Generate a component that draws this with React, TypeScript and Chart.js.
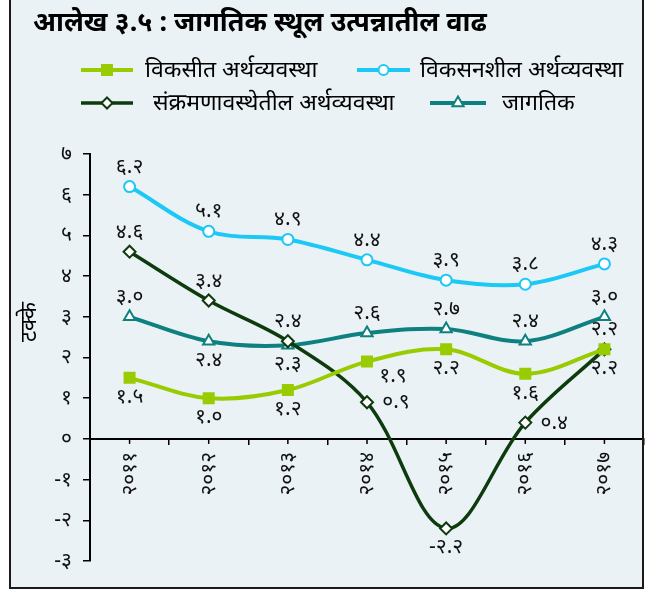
import React, { useEffect, useRef } from 'react';
import { Chart, registerables } from 'chart.js';

Chart.register(...registerables);

// ---- data ----
const titleText = 'आलेख ३.५ : जागतिक स्थूल उत्पन्नातील वाढ';
const yAxisTitle = 'टक्के';
const years = ['२०११', '२०१२', '२०१३', '२०१४', '२०१५', '२०१६', '२०१७'];
const seriesNames = [
  'विकसीत अर्थव्यवस्था',
  'विकसनशील अर्थव्यवस्था',
  'संक्रमणावस्थेतील अर्थव्यवस्था',
  'जागतिक',
];
const developed = [1.5, 1.0, 1.2, 1.9, 2.2, 1.6, 2.2];
const developing = [6.2, 5.1, 4.9, 4.4, 3.9, 3.8, 4.3];
const transition = [4.6, 3.4, 2.4, 0.9, -2.2, 0.4, 2.2];
const world = [3.0, 2.4, 2.3, 2.6, 2.7, 2.4, 3.0];
const yMin = -3;
const yMax = 7;

// label placement: a = above, b = below, r = right, br = below-right
const developedLabelPos = ['b', 'b', 'b', 'br', 'b', 'b', 'b'];
const developingLabelPos = ['a', 'a', 'a', 'a', 'a', 'a', 'a'];
const transitionLabelPos = ['a', 'a', 'a', 'r', 'b', 'r', 'a'];
const worldLabelPos = ['a', 'b', 'b', 'a', 'a', 'a', 'a'];

// ---- styles ----
const FONT = "'Noto Sans', 'Noto Sans Devanagari', 'Lohit Devanagari', sans-serif";
const BG = '#EAF2F5';
const C_DEVELOPED = '#99CC00';
const C_DEVELOPING = '#1CC8F5';
const C_TRANSITION = '#0E3B0E';
const C_WORLD = '#0E8080';

const devDigits = '०१२३४५६७८९';
const dev = (s: string) => s.replace(/[0-9]/g, (d) => devDigits[+d]);

const labelOffsets: Record<string, [number, number]> = {
  a: [0, -20],
  b: [0, 19],
  r: [29, 0],
  br: [26, 14],
};

function drawMarker(ctx: CanvasRenderingContext2D, style: string, x: number, y: number, color: string) {
  ctx.save();
  ctx.lineWidth = 2;
  ctx.strokeStyle = color;
  ctx.fillStyle = '#fff';
  ctx.beginPath();
  if (style === 'rect') {
    ctx.fillStyle = color;
    ctx.rect(x - 6, y - 6, 12, 12);
    ctx.fill();
  } else if (style === 'circle') {
    ctx.arc(x, y, 5, 0, Math.PI * 2);
    ctx.fill();
    ctx.stroke();
  } else if (style === 'rectRot') {
    ctx.moveTo(x, y - 5.5);
    ctx.lineTo(x + 5.5, y);
    ctx.lineTo(x, y + 5.5);
    ctx.lineTo(x - 5.5, y);
    ctx.closePath();
    ctx.fill();
    ctx.stroke();
  } else if (style === 'triangle') {
    const r = 6.5;
    ctx.moveTo(x, y - r);
    ctx.lineTo(x + r * 0.866, y + r * 0.5);
    ctx.lineTo(x - r * 0.866, y + r * 0.5);
    ctx.closePath();
    ctx.fill();
    ctx.stroke();
  }
  ctx.restore();
}

const decoPlugin = {
  id: 'deco',
  beforeDraw(chart: any) {
    const ctx = chart.ctx as CanvasRenderingContext2D;
    ctx.save();
    ctx.fillStyle = '#ffffff';
    ctx.fillRect(0, 0, chart.width, chart.height);
    ctx.fillStyle = BG;
    ctx.fillRect(10, -5, 633, 593);
    ctx.restore();
  },
  afterDatasetsDraw(chart: any) {
    const ctx = chart.ctx as CanvasRenderingContext2D;
    const placements = [developedLabelPos, developingLabelPos, transitionLabelPos, worldLabelPos];
    ctx.save();
    ctx.font = `21px ${FONT}`;
    ctx.fillStyle = '#111';
    ctx.textAlign = 'center';
    ctx.textBaseline = 'middle';
    chart.data.datasets.forEach((ds: any, di: number) => {
      const meta = chart.getDatasetMeta(di);
      meta.data.forEach((pt: any, i: number) => {
        const pos = placements[di][i];
        const [dx, dy] = labelOffsets[pos];
        ctx.fillText(dev((ds.data[i] as number).toFixed(1)), pt.x + dx, pt.y + dy);
      });
    });
    ctx.restore();
  },
  afterDraw(chart: any) {
    const ctx = chart.ctx as CanvasRenderingContext2D;
    const xs = chart.scales.x;
    const ys = chart.scales.y;
    ctx.save();
    // center tick marks on x axis
    const y0 = ys.getPixelForValue(0);
    ctx.strokeStyle = '#000';
    ctx.lineWidth = 1.5;
    for (let i = 0; i < years.length; i++) {
      const px = xs.getPixelForValue(i);
      ctx.beginPath();
      ctx.moveTo(px, y0);
      ctx.lineTo(px, y0 + 5);
      ctx.stroke();
    }
    // frame
    ctx.strokeStyle = '#1a1a1a';
    ctx.lineWidth = 2;
    ctx.strokeRect(10, -5, 633, 593);
    // title
    ctx.fillStyle = '#000';
    ctx.font = `bold 27px ${FONT}`;
    ctx.textAlign = 'left';
    ctx.textBaseline = 'middle';
    ctx.fillText(titleText, 33, 23);
    // y axis title
    ctx.save();
    ctx.translate(30, 322);
    ctx.rotate(-Math.PI / 2);
    ctx.font = `22px ${FONT}`;
    ctx.textAlign = 'center';
    ctx.fillText(yAxisTitle, 0, 0);
    ctx.restore();
    // legend
    const items = [
      { x1: 81, x2: 133, tx: 145, y: 70, color: C_DEVELOPED, style: 'rect', lw: 4 },
      { x1: 357, x2: 410, tx: 420, y: 70, color: C_DEVELOPING, style: 'circle', lw: 4 },
      { x1: 81, x2: 133, tx: 153, y: 103, color: C_TRANSITION, style: 'rectRot', lw: 3.5 },
      { x1: 430, x2: 486, tx: 502, y: 103, color: C_WORLD, style: 'triangle', lw: 4 },
    ];
    ctx.font = `23px ${FONT}`;
    items.forEach((it, k) => {
      ctx.strokeStyle = it.color;
      ctx.lineWidth = it.lw;
      ctx.beginPath();
      ctx.moveTo(it.x1, it.y);
      ctx.lineTo(it.x2, it.y);
      ctx.stroke();
      drawMarker(ctx, it.style, (it.x1 + it.x2) / 2, it.y, it.color);
      ctx.fillStyle = '#000';
      ctx.textAlign = 'left';
      ctx.textBaseline = 'middle';
      ctx.fillText(seriesNames[k], it.tx, it.y);
    });
    ctx.restore();
  },
};

export default function App() {
  const ref = useRef<HTMLCanvasElement | null>(null);
  useEffect(() => {
    if (!ref.current) return;
    const chart = new Chart(ref.current, {
      type: 'line',
      data: {
        labels: years,
        datasets: [
          {
            label: seriesNames[0],
            data: developed,
            borderColor: C_DEVELOPED,
            backgroundColor: C_DEVELOPED,
            borderWidth: 4,
            pointStyle: 'rect',
            pointRadius: 8.5,
            pointBorderWidth: 0,
            pointBackgroundColor: C_DEVELOPED,
            tension: 0.35,
          },
          {
            label: seriesNames[1],
            data: developing,
            borderColor: C_DEVELOPING,
            backgroundColor: '#fff',
            borderWidth: 4,
            pointStyle: 'circle',
            pointRadius: 5.5,
            pointBorderWidth: 2,
            pointBackgroundColor: '#fff',
            pointBorderColor: C_DEVELOPING,
            tension: 0.35,
          },
          {
            label: seriesNames[2],
            data: transition,
            borderColor: C_TRANSITION,
            backgroundColor: '#fff',
            borderWidth: 3.5,
            pointStyle: 'rectRot',
            pointRadius: 6,
            pointBorderWidth: 2,
            pointBackgroundColor: '#fff',
            pointBorderColor: C_TRANSITION,
            tension: 0.35,
          },
          {
            label: seriesNames[3],
            data: world,
            borderColor: C_WORLD,
            backgroundColor: '#fff',
            borderWidth: 4,
            pointStyle: 'triangle',
            pointRadius: 6.5,
            pointBorderWidth: 2,
            pointBackgroundColor: '#fff',
            pointBorderColor: C_WORLD,
            tension: 0.35,
          },
        ],
      },
      options: {
        responsive: false,
        animation: false,
        layout: { padding: { left: 0, top: 154, right: 10, bottom: 31 } },
        plugins: {
          legend: { display: false },
          title: { display: false },
          tooltip: { enabled: false },
        },
        scales: {
          x: {
            type: 'category',
            position: { y: 0 } as any,
            offset: true,
            grid: {
              display: true,
              drawOnChartArea: false,
              drawTicks: true,
              tickLength: 5,
              color: '#000',
              lineWidth: 1.5,
              offset: true,
            },
            border: { display: true, color: '#000', width: 2 },
            ticks: {
              color: '#111',
              font: { size: 21, family: FONT },
              minRotation: 90,
              maxRotation: 90,
              padding: 8,
              autoSkip: false,
            },
          },
          y: {
            min: yMin,
            max: yMax,
            afterFit: (scale: any) => {
              scale.width = 90;
            },
            grid: {
              display: true,
              drawOnChartArea: false,
              drawTicks: true,
              tickLength: 7,
              color: '#000',
              lineWidth: 1.5,
            },
            border: { display: true, color: '#000', width: 2 },
            ticks: {
              stepSize: 1,
              color: '#111',
              font: { size: 21, family: FONT },
              padding: 11,
              callback: (v: any) => dev(String(v)),
            },
          },
        },
      },
      plugins: [decoPlugin],
    });
    return () => chart.destroy();
  }, []);
  return (
    <div style={{ position: 'absolute', left: 0, top: 0, width: 654, height: 592 }}>
      <canvas ref={ref} width={654} height={592} style={{ width: 654, height: 592, display: 'block' }} />
    </div>
  );
}
